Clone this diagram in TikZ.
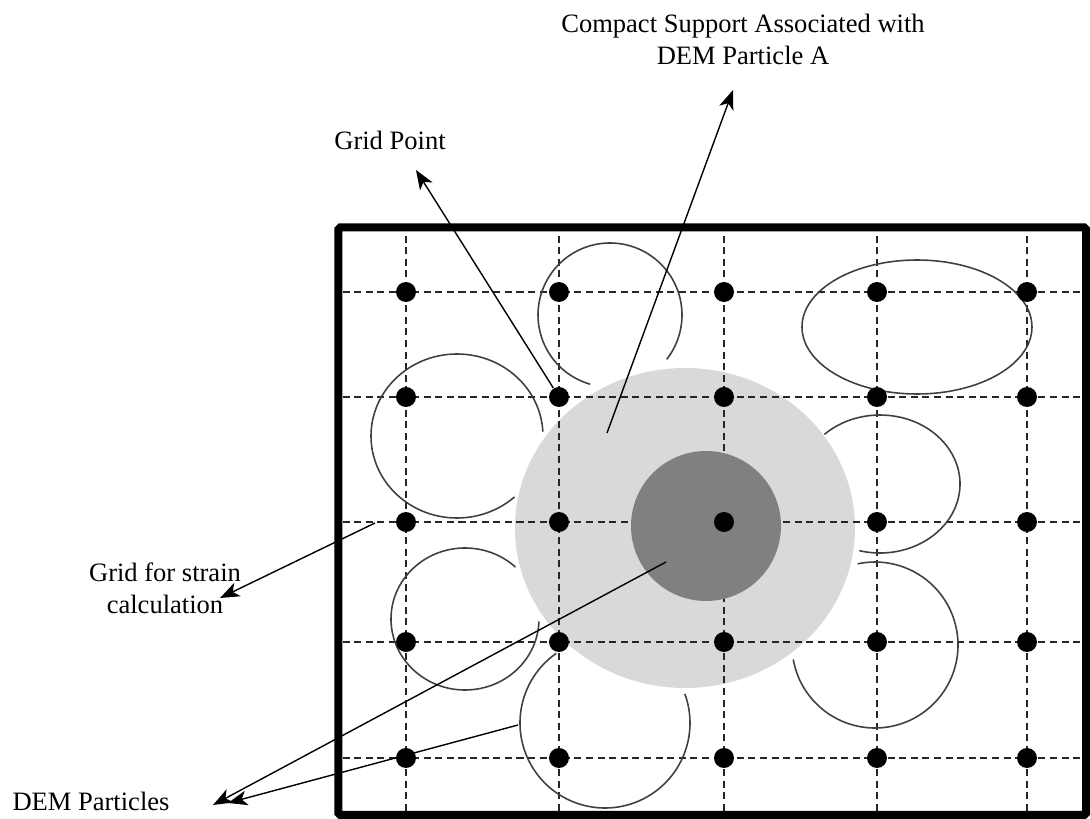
\documentclass[tikz,border=0pt]{standalone}
\usepackage{fontspec}
\setmainfont{Liberation Serif}
\usetikzlibrary{arrows.meta}

\tikzset{
  gridline/.style={black!85, line width=0.4pt, dash pattern=on 2pt off 1.3pt},
  particle/.style={black!75, line width=0.45pt},
  dot/.style={circle, fill=black, inner sep=0pt, minimum size=0.2cm},
  pointer/.style={-{Stealth[length=5.5pt,width=4.2pt,inset=1.5pt]}, line width=0.4pt},
  lbl/.style={font=\fontsize{7.55}{9.1}\selectfont, align=center, inner sep=0pt}
}

\begin{document}
\begin{tikzpicture}
        \useasboundingbox (0,0) rectangle (10.9,8.19);
        % compact support and particle A
        \fill[black!15] (6.85,2.91) ellipse (1.70 and 1.60);
        \foreach \x in {4.06,5.59,7.24,8.77,10.27}
            \draw[gridline] (\x,0.08) -- (\x,5.875);
        \foreach \y in {5.27,4.22,2.97,1.77,0.61}
            \draw[gridline] (3.425,\y) -- (10.82,\y);
        \fill[black!50] (7.06,2.93) circle (0.75);
        \draw[line width=0.08cm, rounded corners=0.5pt] (3.385,0.04) rectangle (10.86,5.915);

        % DEM particles
        \draw[particle] (6.10,5.04) ++(-38:0.72) arc[start angle=-38, end angle=254, radius=0.72];
        \draw[particle] (4.57,3.83) ++(3:0.86 and 0.82) arc[start angle=3, end angle=312, x radius=0.86, y radius=0.82];
        \draw[particle] (4.65,2.00) ++(47:0.74 and 0.71) arc[start angle=47, end angle=358, x radius=0.74, y radius=0.71];
        \draw[particle] (6.05,0.96) ++(125:0.85) arc[start angle=125, end angle=380, radius=0.85];
        \draw[particle] (8.75,1.74) ++(190:0.83) arc[start angle=190, end angle=462, radius=0.83];
        \draw[particle] (8.80,3.35) ++(-105:0.80 and 0.69) arc[start angle=-105, end angle=134, x radius=0.80, y radius=0.69];
        \draw[particle] (9.17,4.92) ellipse (1.15 and 0.67);

        % grid points
        \foreach \x [count=\i] in {4.06,5.59,7.24,8.77,10.27}
            \foreach \y [count=\j] in {5.27,4.22,2.97,1.77,0.61}
                \node[dot] (p\i\j) at (\x,\y) {};

        \node[lbl] (gridpt) at (3.90,6.79) {Grid Point};
        \node[lbl] (support) at (7.43,7.80) {Compact Support Associated with\\DEM Particle A};
        \node[lbl] (strain) at (1.65,2.31) {Grid for strain\\calculation};
        \node[lbl] (dem) at (0.91,0.18) {DEM Particles};

        \coordinate (gp-tip) at (4.16,6.49);
        \coordinate (cs-from) at (6.07,3.86);
        \coordinate (cs-tip) at (7.33,7.29);
        \coordinate (gs-from) at (3.75,2.96);
        \coordinate (gs-tip) at (2.20,2.21);
        \coordinate (pa-from) at (6.66,2.57);
        \coordinate (pa-tip) at (2.13,0.14);
        \coordinate (pb-from) at (5.18,0.94);
        \coordinate (pb-tip) at (2.28,0.16);

        \draw[pointer] (p22) -- (gp-tip);
        \draw[pointer] (cs-from) -- (cs-tip);
        \draw[pointer] (gs-from) -- (gs-tip);
        \draw[pointer] (pa-from) -- (pa-tip);
        \draw[pointer] (pb-from) -- (pb-tip);
    \end{tikzpicture}
\end{document}
